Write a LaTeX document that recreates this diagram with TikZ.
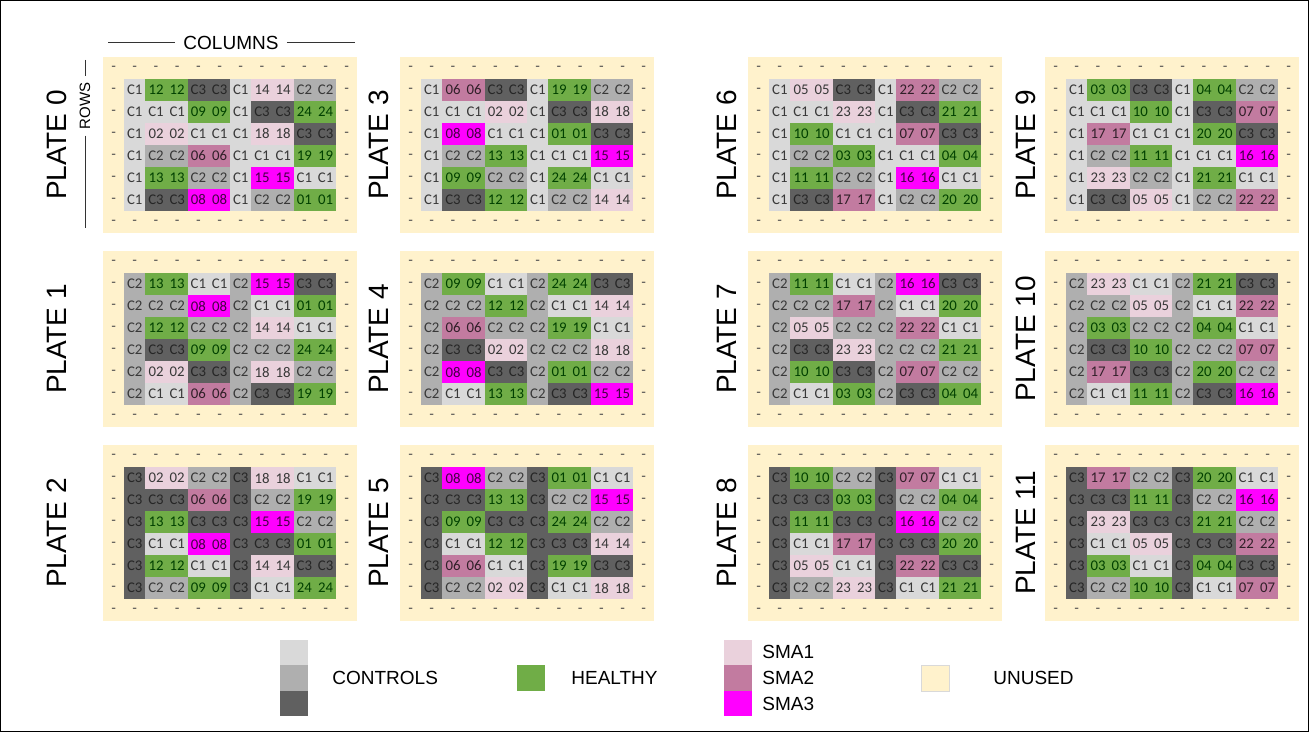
\documentclass[tikz,border=0pt]{standalone}
\usepackage{fontspec}
\setmainfont{Liberation Sans}
\newfontfamily\wellfont{Carlito}

\definecolor{ctrlone}{HTML}{D9D9D9}
\definecolor{ctrltwo}{HTML}{AFAFAF}
\definecolor{ctrlthree}{HTML}{606060}
\definecolor{healthy}{HTML}{70AD47}
\definecolor{smaone}{HTML}{EAD1DC}
\definecolor{smatwo}{HTML}{C27BA0}
\definecolor{smathree}{HTML}{FF00FF}
\definecolor{unused}{HTML}{FFF2CC}
\definecolor{welltext}{HTML}{383838}

\tikzset{
  well/.style={minimum width=10.8pt,minimum height=11.2pt,inner sep=0pt,
    font=\wellfont\fontsize{7.4}{8}\selectfont,text=welltext},
  ringdash/.style={inner sep=0pt,font=\fontsize{7}{8}\selectfont,text=black!70},
  c1/.style={fill=ctrlone}, c2/.style={fill=ctrltwo}, c3/.style={fill=ctrlthree,text=black!85},
  hl/.style={fill=healthy,text=green!25!black},
  s1/.style={fill=smaone}, s2/.style={fill=smatwo,text=black!75!smatwo},
  s3/.style={fill=smathree,text=violet!55!black},
  lab/C1/.style=c1, lab/C2/.style=c2, lab/C3/.style=c3,
  lab/01/.style=hl, lab/03/.style=hl, lab/04/.style=hl, lab/09/.style=hl,
  lab/10/.style=hl, lab/11/.style=hl, lab/12/.style=hl, lab/13/.style=hl,
  lab/19/.style=hl, lab/20/.style=hl, lab/21/.style=hl, lab/24/.style=hl,
  lab/02/.style=s1, lab/05/.style=s1, lab/14/.style=s1, lab/18/.style=s1, lab/23/.style=s1,
  lab/06/.style=s2, lab/07/.style=s2, lab/17/.style=s2, lab/22/.style=s2,
  lab/08/.style=s3, lab/15/.style=s3, lab/16/.style=s3,
  platelabel/.style={rotate=90,font=\fontsize{14}{16}\selectfont,text=black},
  axislabel/.style={font=\fontsize{9.5}{10}\selectfont,inner sep=4pt},
  axisline/.style={line width=0.5pt,black!80},
  legbox/.style={minimum width=14pt,minimum height=12.9pt,inner sep=0pt},
  legtext/.style={anchor=west,font=\fontsize{9.5}{11}\selectfont,inner sep=0pt}
}

% #1 plate number, #2,#3 top left of plate, #4 x of label, #5 rows of wells
\newcommand{\drawplate}[5]{%
  \fill[unused] (#2,#3) rectangle ++(254.4,176);
  \foreach \i in {0,...,11}{
    \node[ringdash] (p#1-t\i) at ({#2+21.2*(\i+0.5)},{#3+11}) {-};
    \node[ringdash] (p#1-b\i) at ({#2+21.2*(\i+0.5)},{#3+165}) {-};
  }
  \foreach \j in {1,...,6}{
    \node[ringdash] (p#1-l\j) at ({#2+10.6},{#3+22*(\j+0.5)}) {-};
    \node[ringdash] (p#1-r\j) at ({#2+243.8},{#3+22*(\j+0.5)}) {-};
  }
  \foreach \row [count=\j] in {#5}{
    \foreach \lab [count=\i] in \row{
      \node[well,lab/\lab] (p#1-\j-\i) at ({#2+21.2*(\i+0.5)},{#3+22*(\j+0.5)}) {\lab};
    }
  }
  \node[platelabel] (p#1-label) at (#4,{#3+88}) {PLATE #1};
}

\begin{document}
\begin{tikzpicture}[x=0.5pt,y=-0.5pt]
\useasboundingbox (0,0) rectangle (1309,732);
\fill[white] (0,0) rectangle (1309,732);
\draw[line width=0.6pt] (0.6,0.6) rectangle (1308.4,731.4);

% plates, first column
\drawplate{0}{103}{57}{57}{{C1,12,12,C3,C3,C1,14,14,C2,C2},{C1,C1,C1,09,09,C1,C3,C3,24,24},
  {C1,02,02,C1,C1,C1,18,18,C3,C3},{C1,C2,C2,06,06,C1,C1,C1,19,19},
  {C1,13,13,C2,C2,C1,15,15,C1,C1},{C1,C3,C3,08,08,C1,C2,C2,01,01}}
\drawplate{1}{103}{251}{57}{{C2,13,13,C1,C1,C2,15,15,C3,C3},{C2,C2,C2,08,08,C2,C1,C1,01,01},
  {C2,12,12,C2,C2,C2,14,14,C1,C1},{C2,C3,C3,09,09,C2,C2,C2,24,24},
  {C2,02,02,C3,C3,C2,18,18,C2,C2},{C2,C1,C1,06,06,C2,C3,C3,19,19}}
\drawplate{2}{103}{445}{57}{{C3,02,02,C2,C2,C3,18,18,C1,C1},{C3,C3,C3,06,06,C3,C2,C2,19,19},
  {C3,13,13,C3,C3,C3,15,15,C2,C2},{C3,C1,C1,08,08,C3,C3,C3,01,01},
  {C3,12,12,C1,C1,C3,14,14,C3,C3},{C3,C2,C2,09,09,C3,C1,C1,24,24}}

% second column
\drawplate{3}{400}{57}{379}{{C1,06,06,C3,C3,C1,19,19,C2,C2},{C1,C1,C1,02,02,C1,C3,C3,18,18},
  {C1,08,08,C1,C1,C1,01,01,C3,C3},{C1,C2,C2,13,13,C1,C1,C1,15,15},
  {C1,09,09,C2,C2,C1,24,24,C1,C1},{C1,C3,C3,12,12,C1,C2,C2,14,14}}
\drawplate{4}{400}{251}{379}{{C2,09,09,C1,C1,C2,24,24,C3,C3},{C2,C2,C2,12,12,C2,C1,C1,14,14},
  {C2,06,06,C2,C2,C2,19,19,C1,C1},{C2,C3,C3,02,02,C2,C2,C2,18,18},
  {C2,08,08,C3,C3,C2,01,01,C2,C2},{C2,C1,C1,13,13,C2,C3,C3,15,15}}
\drawplate{5}{400}{445}{379}{{C3,08,08,C2,C2,C3,01,01,C1,C1},{C3,C3,C3,13,13,C3,C2,C2,15,15},
  {C3,09,09,C3,C3,C3,24,24,C2,C2},{C3,C1,C1,12,12,C3,C3,C3,14,14},
  {C3,06,06,C1,C1,C3,19,19,C3,C3},{C3,C2,C2,02,02,C3,C1,C1,18,18}}

% third column
\drawplate{6}{748}{57}{727}{{C1,05,05,C3,C3,C1,22,22,C2,C2},{C1,C1,C1,23,23,C1,C3,C3,21,21},
  {C1,10,10,C1,C1,C1,07,07,C3,C3},{C1,C2,C2,03,03,C1,C1,C1,04,04},
  {C1,11,11,C2,C2,C1,16,16,C1,C1},{C1,C3,C3,17,17,C1,C2,C2,20,20}}
\drawplate{7}{748}{251}{727}{{C2,11,11,C1,C1,C2,16,16,C3,C3},{C2,C2,C2,17,17,C2,C1,C1,20,20},
  {C2,05,05,C2,C2,C2,22,22,C1,C1},{C2,C3,C3,23,23,C2,C2,C2,21,21},
  {C2,10,10,C3,C3,C2,07,07,C2,C2},{C2,C1,C1,03,03,C2,C3,C3,04,04}}
\drawplate{8}{748}{445}{727}{{C3,10,10,C2,C2,C3,07,07,C1,C1},{C3,C3,C3,03,03,C3,C2,C2,04,04},
  {C3,11,11,C3,C3,C3,16,16,C2,C2},{C3,C1,C1,17,17,C3,C3,C3,20,20},
  {C3,05,05,C1,C1,C3,22,22,C3,C3},{C3,C2,C2,23,23,C3,C1,C1,21,21}}

% fourth column
\drawplate{9}{1045}{57}{1026}{{C1,03,03,C3,C3,C1,04,04,C2,C2},{C1,C1,C1,10,10,C1,C3,C3,07,07},
  {C1,17,17,C1,C1,C1,20,20,C3,C3},{C1,C2,C2,11,11,C1,C1,C1,16,16},
  {C1,23,23,C2,C2,C1,21,21,C1,C1},{C1,C3,C3,05,05,C1,C2,C2,22,22}}
\drawplate{10}{1045}{251}{1026}{{C2,23,23,C1,C1,C2,21,21,C3,C3},{C2,C2,C2,05,05,C2,C1,C1,22,22},
  {C2,03,03,C2,C2,C2,04,04,C1,C1},{C2,C3,C3,10,10,C2,C2,C2,07,07},
  {C2,17,17,C3,C3,C2,20,20,C2,C2},{C2,C1,C1,11,11,C2,C3,C3,16,16}}
\drawplate{11}{1045}{445}{1026}{{C3,17,17,C2,C2,C3,20,20,C1,C1},{C3,C3,C3,11,11,C3,C2,C2,16,16},
  {C3,23,23,C3,C3,C3,21,21,C2,C2},{C3,C1,C1,05,05,C3,C3,C3,22,22},
  {C3,03,03,C1,C1,C3,04,04,C3,C3},{C3,C2,C2,10,10,C3,C1,C1,07,07}}

% axis hints
\node[axislabel] (colhead) at (231,43) {COLUMNS};
\coordinate (colL) at (108,43);
\coordinate (colR) at (355,43);
\draw[axisline] (colL) -- (colhead.west);
\draw[axisline] (colhead.east) -- (colR);
\node[axislabel,rotate=90,inner sep=3pt,font=\fontsize{7.5}{9}\selectfont] (rowhead) at (85,106) {ROWS};
\coordinate (rowT) at (85,60);
\coordinate (rowB) at (85,228);
\draw[axisline] (rowT) -- (rowhead.east);
\draw[axisline] (rowhead.west) -- (rowB);

% legend
\node[legbox,fill=ctrlone] (leg-c1) at (294,652.5) {};
\node[legbox,fill=ctrltwo] (leg-c2) at (294,678) {};
\node[legbox,fill=ctrlthree] (leg-c3) at (294,703.5) {};
\node[legtext] (leg-ctrl) at (332,678) {CONTROLS};
\node[legbox,fill=healthy] (leg-hl) at (531,678) {};
\node[legtext] (leg-hltext) at (571,678) {HEALTHY};
\node[legbox,fill=smaone] (leg-s1) at (738,652.5) {};
\node[legbox,fill=smatwo] (leg-s2) at (738,678) {};
\node[legbox,fill=smathree] (leg-s3) at (738,703.5) {};
\node[legtext] (leg-s1text) at (762,652) {SMA1};
\node[legtext] (leg-s2text) at (762,678) {SMA2};
\node[legtext] (leg-s3text) at (762,704) {SMA3};
\node[legbox,fill=unused,draw=black!15,line width=0.4pt] (leg-un) at (935,678) {};
\node[legtext] (leg-untext) at (993,678) {UNUSED};
\end{tikzpicture}
\end{document}
